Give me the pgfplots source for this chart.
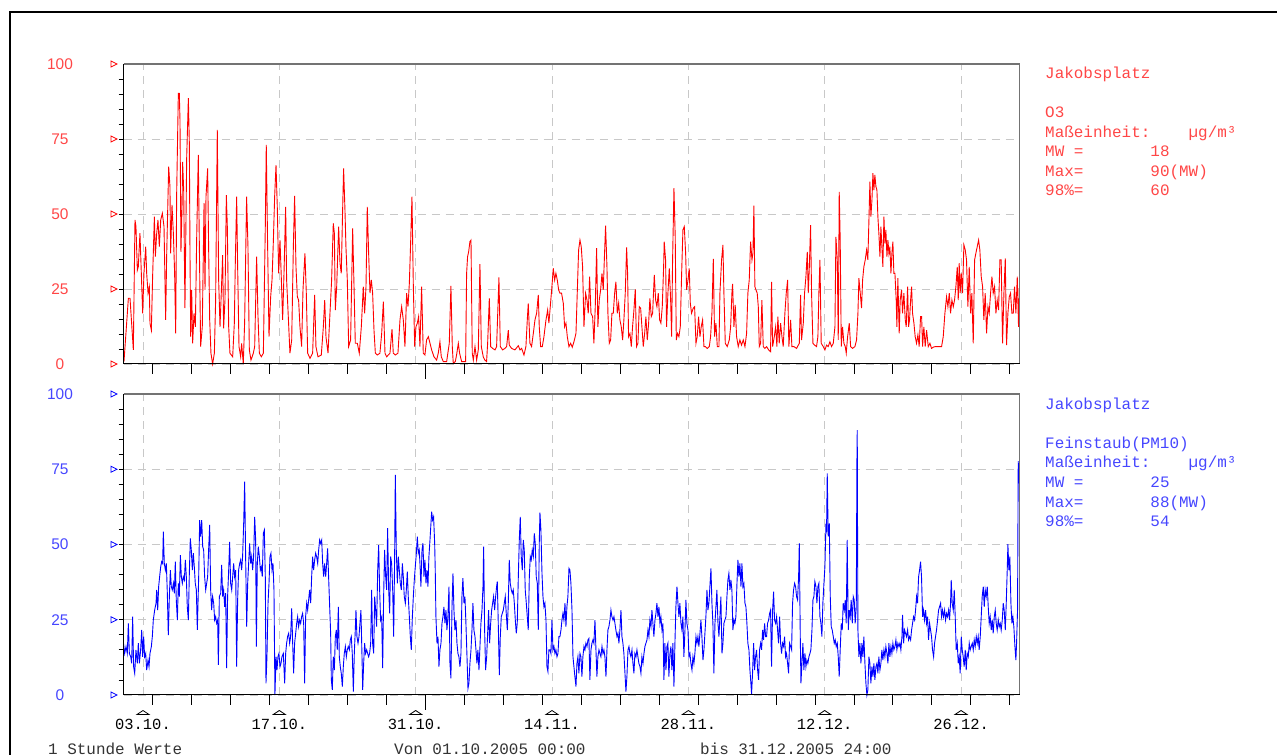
\documentclass[border=0pt]{standalone}
\usepackage{pgfplots}
\pgfplotsset{compat=1.18}
\usepackage{fontspec}
\setmainfont{Liberation Mono}
\newfontfamily\labfont{Liberation Sans}
\definecolor{txtred}{RGB}{255,70,70}
\definecolor{txtblue}{RGB}{70,70,255}
\definecolor{gridgray}{RGB}{200,200,200}
\pgfplotsset{
  myaxis/.style={
    scale only axis, width=896bp,
    xmin=0, xmax=92, ymin=0, ymax=100,
    axis line style={draw=none},
    clip=false,
    tick pos=left,
    xtick={2,16,30,44,58,72,86},
    ytick={0,25,50,75,100},
    minor ytick={5,10,...,95},
    major tick length=0pt, minor tick length=5bp, tick align=outside,
    tick style={black, line width=0.8bp},
    xmajorgrids, ymajorgrids,
    major grid style={gridgray, dash pattern=on 8bp off 6bp, line width=0.8bp},
    /pgf/number format/assume math mode=true,
    yticklabel style={anchor=center, xshift=-63.5bp, inner sep=0pt, font=\labfont\fontsize{15.5}{15.5}\selectfont},
  }
}
\newcommand{\axisdeco}[1]{%
  \draw[black!55, line width=1.3bp] (rel axis cs:0,1) -- (rel axis cs:1,1) -- (rel axis cs:1,0);
  \draw[black, line width=1bp] (rel axis cs:0,1) -- (rel axis cs:0,0) -- (rel axis cs:1,0);
  \pgfplotsinvokeforeach{3,7,...,91}{\draw[black, line width=0.8bp] (axis cs:##1,0) -- ++(0,-10bp);}
  \draw[black, line width=0.8bp] (axis cs:31,0) -- ++(0,-15bp);
  \pgfplotsinvokeforeach{0,25,50,75,100}{\draw[#1, line width=0.8bp] (axis cs:0,##1) ++(-12.5bp,-3bp) -- ++(6bp,3bp) -- ++(-6bp,3bp) -- cycle;}
}
\begin{document}
\begin{tikzpicture}
\path[use as bounding box] (0bp,0bp) rectangle (1277bp,755bp);
\draw[line width=2bp] (10bp,-5bp) -- (10bp,743bp) -- (1290bp,743bp);
% ---------- O3 ----------
\begin{axis}[myaxis, height=300bp, at={(123.5bp,391bp)}, anchor=south west,
  xticklabels={}, yticklabel style={text=txtred}]
\addplot[red, line width=0.9bp] table[row sep=\\] {
x y\\
0.05 0.8\\ 0.50 21.9\\ 0.67 21.9\\ 1.01 4.7\\ 1.18 48\\ 1.28 45.8\\ 1.42 31.3\\ 1.52 32.4\\ 1.69 43.6\\ 1.83 30.2\\ 1.97 16.9\\ 2.10 30.2\\ 2.28 39.1\\ 2.38 30.2\\ 2.52 23.6\\ 2.65 25.8\\ 2.72 13.6\\ 2.86 11.3\\ 2.99 29.1\\ 3.17 49.1\\ 3.27 35.8\\ 3.41 43.6\\ 3.54 48\\ 3.68 39.1\\ 3.82 48\\ 3.99 50.2\\ 4.16 45.8\\ 4.33 14.7\\ 4.43 35.8\\ 4.64 65.8\\ 4.77 59.1\\ 4.84 36.9\\ 4.98 53\\ 5.12 43.6\\ 5.25 30.2\\ 5.36 10.2\\ 5.46 56.9\\ 5.63 90.2\\ 5.73 90.2\\ 5.80 81.3\\ 5.90 37.4\\ 6.01 52.4\\ 6.07 67.4\\ 6.18 58\\ 6.31 18.6\\ 6.49 69.1\\ 6.66 88.6\\ 6.76 73.6\\ 6.83 35.8\\ 6.90 9.1\\ 7.00 24.7\\ 7.10 6.9\\ 7.24 16.9\\ 7.38 12.4\\ 7.51 41.3\\ 7.68 69.7\\ 7.79 39.1\\ 7.92 5.8\\ 8.09 12.4\\ 8.27 53.6\\ 8.37 24.7\\ 8.47 55.8\\ 8.64 65.2\\ 8.74 39.1\\ 8.85 14.7\\ 8.98 3.6\\ 9.15 0\\ 9.33 3.6\\ 9.46 21.3\\ 9.63 78\\ 9.77 28\\ 9.91 12.4\\ 10.04 23.6\\ 10.18 36.3\\ 10.28 11.9\\ 10.42 21.3\\ 10.56 56.3\\ 10.66 45.8\\ 10.80 12.4\\ 10.93 3.6\\ 11.21 2.4\\ 11.38 13.6\\ 11.48 33.6\\ 11.62 55.8\\ 11.72 32.4\\ 11.86 5.8\\ 12.03 2.4\\ 12.13 6.9\\ 12.30 0\\ 12.44 14.1\\ 12.64 55.8\\ 12.78 39.1\\ 12.92 4.7\\ 13.09 1.3\\ 13.33 3.6\\ 13.47 5.8\\ 13.67 35.8\\ 13.81 15.8\\ 13.95 3.6\\ 14.15 2.4\\ 14.36 3.6\\ 14.56 45.8\\ 14.66 73\\ 14.80 39.1\\ 14.94 9.1\\ 15.11 22.4\\ 15.25 28\\ 15.38 40.2\\ 15.52 55.8\\ 15.66 66.3\\ 15.79 52.4\\ 15.93 30.2\\ 16.07 41.3\\ 16.20 29.1\\ 16.34 14.7\\ 16.48 30.2\\ 16.65 52.4\\ 16.75 28\\ 16.92 15.8\\ 17.09 3.6\\ 17.27 8\\ 17.44 39.1\\ 17.57 56\\ 17.71 32.4\\ 17.85 22.4\\ 17.98 21.3\\ 18.12 12.4\\ 18.29 5.8\\ 18.43 24.7\\ 18.63 36.9\\ 18.77 23.6\\ 18.91 3.6\\ 19.15 1.9\\ 19.42 3.6\\ 19.63 23\\ 19.76 5.8\\ 19.97 2.4\\ 20.31 3\\ 20.52 12.4\\ 20.66 21.3\\ 20.79 9.1\\ 21.00 3.6\\ 21.20 16.9\\ 21.37 28\\ 21.54 46.9\\ 21.65 43.6\\ 21.75 18\\ 21.89 25.8\\ 22.09 45.8\\ 22.23 33.6\\ 22.36 30.2\\ 22.50 51.3\\ 22.60 65.2\\ 22.74 51.3\\ 22.84 39.1\\ 22.98 28\\ 23.12 5.8\\ 23.32 8\\ 23.53 45.2\\ 23.67 25.8\\ 23.80 6.9\\ 24.01 6.9\\ 24.21 3.6\\ 24.42 12.4\\ 24.62 25.8\\ 24.76 16.9\\ 24.90 25.8\\ 25.03 52.4\\ 25.17 36.9\\ 25.31 23.6\\ 25.45 28\\ 25.58 23.6\\ 25.72 11.3\\ 25.86 3.6\\ 26.06 3\\ 26.33 3.6\\ 26.51 10.2\\ 26.68 20.8\\ 26.85 3.6\\ 27.02 2.4\\ 27.36 3.6\\ 27.57 11.6\\ 27.70 3.6\\ 27.91 3\\ 28.18 3.6\\ 28.39 14.7\\ 28.56 19.1\\ 28.73 14.7\\ 28.90 5.8\\ 29.07 23.6\\ 29.21 19.1\\ 29.35 26.9\\ 29.48 40.2\\ 29.62 55.8\\ 29.76 25.8\\ 29.90 5.8\\ 30.03 12.4\\ 30.17 13.6\\ 30.30 15.8\\ 30.44 5.8\\ 30.61 25.8\\ 30.78 3.6\\
30.95 3\\ 31.12 8\\ 31.30 9.1\\ 31.47 6.9\\ 31.64 4.7\\ 31.88 2.4\\ 32.15 1.3\\ 32.32 3.6\\ 32.49 7.4\\ 32.63 2.4\\ 32.84 0.8\\ 33.18 0.8\\ 33.45 6.9\\ 33.62 26\\ 33.76 5.8\\ 33.86 0.2\\ 34.07 0.8\\ 34.20 3\\ 34.38 6.9\\ 34.51 3.6\\ 34.72 0.8\\ 35.13 0.8\\ 35.23 30.2\\ 35.33 35.8\\ 35.44 37.4\\ 35.57 40.8\\ 35.68 41.3\\ 35.81 3.6\\ 35.92 1.3\\ 36.09 5.8\\ 36.26 1.3\\ 36.43 4.7\\ 36.60 33.3\\ 36.74 5.8\\ 36.94 2.4\\ 37.11 1.3\\ 37.28 0.8\\ 37.39 6.9\\ 37.56 21.9\\ 37.70 5.8\\ 37.90 5.2\\ 38.14 4.7\\ 38.31 5.8\\ 38.55 28.9\\ 38.69 5.8\\ 38.93 4.7\\ 39.17 5.2\\ 39.34 5.8\\ 39.51 11.3\\ 39.61 6.3\\ 39.85 5.2\\ 40.19 4.7\\ 40.54 6.1\\ 40.71 4.7\\ 40.88 5.2\\ 41.12 3\\ 41.32 5.8\\ 41.46 14.7\\ 41.56 20.2\\ 41.73 6.9\\ 41.90 5.8\\ 42.08 10.2\\ 42.25 14.7\\ 42.42 16.9\\ 42.59 23\\ 42.69 12.4\\ 42.83 5.8\\ 43.00 5.8\\ 43.17 9.1\\ 43.38 14.7\\ 43.55 18\\ 43.68 13.6\\ 43.82 19.1\\ 43.99 25.8\\ 44.13 31.9\\ 44.27 28\\ 44.40 30.2\\ 44.54 28\\ 44.68 24.7\\ 44.81 23.6\\ 44.98 23.6\\ 45.16 20.2\\ 45.29 12.4\\ 45.43 13.6\\ 45.57 9.1\\ 45.74 5.8\\ 45.91 6.9\\ 46.08 5.6\\ 46.25 7.4\\ 46.46 10.2\\ 46.59 23.6\\ 46.73 38\\ 46.87 41.3\\ 47.00 39.1\\ 47.14 32.4\\ 47.28 12.4\\ 47.45 23.6\\ 47.59 21.3\\ 47.72 16.9\\ 47.86 29.1\\ 48.00 16.9\\ 48.17 15.8\\ 48.30 6.9\\ 48.44 19.1\\ 48.58 38.6\\ 48.71 12.4\\ 48.85 21.3\\ 48.99 24.7\\ 49.13 30.2\\ 49.26 24.7\\ 49.37 34.7\\ 49.50 46.1\\ 49.64 32.4\\ 49.74 16.9\\ 49.88 6.9\\ 50.02 8\\ 50.15 16.9\\ 50.29 16.9\\ 50.43 23.6\\ 50.56 27.4\\ 50.70 16.9\\ 50.84 20.2\\ 50.97 14.7\\ 51.11 12.4\\ 51.25 8\\ 51.38 14.7\\ 51.52 23.6\\ 51.66 38.9\\ 51.76 30.2\\ 51.86 9.1\\ 52.00 10.2\\ 52.14 5.8\\ 52.27 12.4\\ 52.41 18\\ 52.55 24.9\\ 52.68 5.8\\ 52.82 6.9\\ 52.96 19.1\\ 53.10 18.6\\ 53.23 12.4\\ 53.37 5.8\\ 53.51 10.2\\ 53.64 15.8\\ 53.78 8\\ 53.92 13.6\\ 54.05 21.9\\ 54.19 15.8\\ 54.33 16.9\\ 54.50 29.7\\ 54.64 21.3\\ 54.77 19.1\\ 54.91 23.6\\ 55.05 14.7\\ 55.18 13.6\\ 55.32 19.1\\ 55.46 32.4\\ 55.52 40.8\\ 55.66 34.7\\ 55.76 12.4\\ 55.90 23.6\\ 56.04 31.9\\ 56.18 21.3\\ 56.28 9.1\\ 56.38 34.7\\ 56.52 58.6\\ 56.65 42.4\\ 56.76 8\\ 56.89 10.2\\ 57.03 9.1\\ 57.17 12.4\\ 57.30 29.1\\ 57.44 44.7\\ 57.58 45.8\\ 57.72 36.9\\ 57.82 24.7\\ 57.96 28\\ 58.09 31.9\\ 58.20 20.2\\ 58.33 16.9\\ 58.50 18.6\\ 58.64 19.1\\ 58.78 6.9\\ 58.91 9.1\\ 59.05 15.8\\ 59.19 9.1\\ 59.32 12.4\\ 59.46 14.7\\ 59.60 5.8\\ 59.74 5.8\\ 59.94 5.2\\ 60.15 5.8\\ 60.28 9.1\\ 60.42 16.9\\ 60.56 35\\ 60.69 9.1\\ 60.83 13.6\\ 60.97 5.8\\ 61.14 5.8\\
61.24 23.6\\ 61.41 34.7\\ 61.55 39.7\\ 61.65 23.6\\ 61.79 6.9\\ 61.99 5.8\\ 62.20 8\\ 62.34 12.4\\ 62.47 23.6\\ 62.54 26.7\\ 62.68 12.4\\ 62.81 19.7\\ 62.95 9.1\\ 63.12 5.8\\ 63.29 8\\ 63.46 6.3\\ 63.64 8\\ 63.81 5.8\\ 63.98 10.2\\ 64.11 23.6\\ 64.25 28\\ 64.39 40.8\\ 64.53 34.7\\ 64.63 36.9\\ 64.73 52.8\\ 64.83 25.8\\ 64.94 24.7\\ 65.07 23.6\\ 65.18 19.1\\ 65.28 5.8\\ 65.42 6.9\\ 65.55 21.3\\ 65.69 5.8\\ 65.86 5.2\\ 66.03 5.8\\ 66.24 4.7\\ 66.44 4.1\\ 66.54 27.4\\ 66.65 5.8\\ 66.82 9.1\\ 66.96 12.4\\ 67.09 5.8\\ 67.19 15.8\\ 67.33 6.9\\ 67.47 13.6\\ 67.61 9.1\\ 67.74 5.8\\ 67.91 16.9\\ 68.05 23.6\\ 68.19 28\\ 68.32 5.8\\ 68.50 14.7\\ 68.63 5.8\\ 68.84 5.8\\ 69.11 5.2\\ 69.39 6.9\\ 69.52 23\\ 69.62 8\\ 69.80 13.6\\ 69.93 23.6\\ 70.07 29.1\\ 70.21 37.4\\ 70.31 23.6\\ 70.41 31.3\\ 70.55 46.3\\ 70.65 23.6\\ 70.79 6.9\\ 70.96 6.3\\ 71.16 5.8\\ 71.30 9.1\\ 71.40 23.6\\ 71.51 34.7\\ 71.64 6.9\\ 71.85 5.8\\ 72.02 4.7\\ 72.19 6.3\\ 72.36 5.8\\ 72.53 7.4\\ 72.70 5.8\\ 72.88 6.9\\ 73.05 12.4\\ 73.15 42.4\\ 73.29 34.7\\ 73.39 8\\ 73.49 57.4\\ 73.59 41.3\\ 73.70 5.8\\ 73.83 12.4\\ 73.97 6.9\\ 74.11 5.8\\ 74.21 3.6\\ 74.35 9.1\\ 74.52 13.6\\ 74.66 5.8\\ 74.86 5.2\\ 75.10 5.8\\ 75.27 8\\ 75.41 16.9\\ 75.51 28.6\\ 75.65 23.6\\ 75.78 18.6\\ 75.89 28\\ 76.02 32.4\\ 76.16 34.7\\ 76.30 38\\ 76.43 34.7\\ 76.54 48\\ 76.64 60.8\\ 76.74 49.1\\ 76.85 54.7\\ 76.95 63.6\\ 77.05 58\\ 77.15 63\\ 77.26 59.1\\ 77.36 58\\ 77.46 49.1\\ 77.56 43.6\\ 77.67 35.8\\ 77.77 45.8\\ 77.87 39.1\\ 77.97 32.4\\ 78.08 49.1\\ 78.18 40.2\\ 78.28 44.7\\ 78.39 35.8\\ 78.49 41.3\\ 78.59 36.9\\ 78.69 39.1\\ 78.80 30.2\\ 78.90 36.9\\ 79.00 40.8\\ 79.10 30.2\\ 79.21 30.2\\ 79.34 21.3\\ 79.41 12.4\\ 79.51 28.6\\ 79.65 10.2\\ 79.75 21.3\\ 79.89 24.7\\ 79.99 16.9\\ 80.13 23.6\\ 80.27 14.7\\ 80.37 12.4\\ 80.51 25.8\\ 80.61 12.4\\ 80.71 14.7\\ 80.82 21.3\\ 80.92 25.8\\ 81.02 16.9\\ 81.16 13.6\\ 81.29 9.1\\ 81.43 6.9\\ 81.57 9.7\\ 81.70 5.8\\ 81.84 15.8\\ 81.95 15.8\\ 82.05 5.8\\ 82.18 12.4\\ 82.32 5.8\\ 82.46 11.3\\ 82.63 5.8\\ 82.80 6.9\\ 82.97 5.2\\ 83.14 5.6\\ 83.35 5.8\\ 83.55 5.8\\ 83.76 5.8\\ 84.00 5.8\\ 84.17 9.1\\ 84.34 16.9\\ 84.51 22.4\\ 84.65 19.1\\ 84.79 23.6\\ 84.92 16.9\\ 85.06 21.3\\ 85.20 19.1\\ 85.33 21.3\\ 85.47 25.8\\ 85.61 32.4\\ 85.71 21.3\\ 85.81 33.6\\ 85.91 23.6\\ 86.02 30.2\\ 86.15 23.6\\ 86.29 39.7\\ 86.43 38\\ 86.56 34.7\\ 86.70 19.1\\ 86.84 32.4\\ 86.98 16.9\\ 87.11 23.6\\ 87.25 6.9\\ 87.39 34.7\\ 87.52 36.9\\ 87.66 39.1\\ 87.80 41.3\\ 87.93 38\\ 88.07 29.1\\ 88.21 25.8\\ 88.34 14.7\\ 88.48 23.6\\ 88.62 10.2\\ 88.76 19.1\\ 88.89 16.9\\ 89.03 23.6\\ 89.17 29.1\\ 89.30 23.6\\ 89.44 25.8\\ 89.58 16.9\\ 89.71 21.3\\ 89.85 18\\ 89.99 34.7\\ 90.12 34.7\\ 90.26 6.9\\ 90.40 23.6\\ 90.54 35.2\\ 90.67 6.3\\ 90.81 16.9\\ 90.95 22.4\\ 91.08 23.6\\ 91.22 16.9\\ 91.36 16.9\\ 91.49 25.8\\ 91.63 16.9\\ 91.77 29.1\\ 91.90 12.4\\ 92.00 26\\
};
\axisdeco{red}
\end{axis}
% ---------- PM10 ----------
\begin{axis}[myaxis, height=301bp, at={(123.5bp,60bp)}, anchor=south west,
  xticklabels={03.10.,17.10.,31.10.,14.11.,28.11.,12.12.,26.12.},
  xticklabel style={anchor=north, inner sep=0pt, yshift=-24bp, font=\fontsize{15.5}{15.5}\selectfont},
  yticklabel style={text=txtblue}]
\addplot[blue, line width=0.9bp] table[row sep=\\] {
x y\\
0.00 17.2\\ 0.12 13.8\\ 0.26 16.1\\ 0.39 13.8\\ 0.50 23.8\\ 0.60 13.8\\ 0.74 12.7\\ 0.84 10.5\\ 0.94 26\\ 1.04 9.4\\ 1.15 7.2\\ 1.28 15\\ 1.42 10.5\\ 1.52 17.2\\ 1.63 10.5\\ 1.76 15\\ 1.87 21.6\\ 1.97 12.7\\ 2.07 19.4\\ 2.17 12.7\\ 2.28 13.8\\ 2.38 8.3\\ 2.52 11.6\\ 2.62 9.4\\ 2.72 13.8\\ 2.86 16.1\\ 2.96 19.4\\ 3.06 24.9\\ 3.20 28.2\\ 3.34 30.5\\ 3.41 34.9\\ 3.51 28.2\\ 3.61 36\\ 3.71 39.3\\ 3.82 42.6\\ 3.92 44.3\\ 4.02 43.7\\ 4.09 54.3\\ 4.19 43.7\\ 4.30 41.5\\ 4.40 43.7\\ 4.50 33.8\\ 4.60 19.9\\ 4.71 32.7\\ 4.81 41.5\\ 4.91 36\\ 5.01 34.9\\ 5.12 37.1\\ 5.22 33.8\\ 5.32 44.3\\ 5.42 31.6\\ 5.53 24.9\\ 5.63 37.1\\ 5.73 32.7\\ 5.84 46.5\\ 5.94 39.3\\ 6.04 37.1\\ 6.14 39.3\\ 6.25 38.2\\ 6.35 44.9\\ 6.45 39.3\\ 6.55 29.3\\ 6.66 24.9\\ 6.76 40.4\\ 6.86 52\\ 6.96 48.2\\ 7.07 41.5\\ 7.17 47.1\\ 7.27 42.6\\ 7.37 37.1\\ 7.48 34.9\\ 7.58 21.6\\ 7.72 39.3\\ 7.82 58.1\\ 7.92 52.6\\ 8.03 58.1\\ 8.13 49.3\\ 8.23 48.2\\ 8.33 39.3\\ 8.44 34.9\\ 8.54 37.1\\ 8.64 39.3\\ 8.74 48.2\\ 8.85 56.5\\ 8.95 34.9\\ 9.05 28.2\\ 9.15 32.7\\ 9.26 30.5\\ 9.36 24.9\\ 9.46 26\\ 9.57 23.8\\ 9.67 24.9\\ 9.74 10\\ 9.84 32.7\\ 9.98 33.8\\ 10.08 43.2\\ 10.18 32.7\\ 10.28 34.9\\ 10.39 29.3\\ 10.49 33.8\\ 10.59 8.9\\ 10.69 32.7\\ 10.80 41.5\\ 10.90 50.9\\ 11.00 37.1\\ 11.11 34.9\\ 11.21 39.3\\ 11.31 43.7\\ 11.41 39.3\\ 11.52 41.5\\ 11.62 9.4\\ 11.72 31.6\\ 11.82 41.5\\ 11.93 43.7\\ 12.03 44.9\\ 12.13 41.5\\ 12.23 46\\ 12.34 57\\ 12.44 70.9\\ 12.54 46\\ 12.65 22.7\\ 12.75 37.1\\ 12.85 43.7\\ 12.95 50.4\\ 13.06 43.7\\ 13.16 46\\ 13.26 41.5\\ 13.36 46\\ 13.47 59.2\\ 13.57 51.5\\ 13.64 16.1\\ 13.74 43.7\\ 13.84 49.3\\ 13.95 46\\ 14.05 41.5\\ 14.15 42.6\\ 14.25 39.3\\ 14.36 53.7\\ 14.46 54.8\\ 14.56 39.3\\ 14.63 3.9\\ 14.73 12.7\\ 14.84 30.5\\ 14.94 37.1\\ 15.04 46\\ 15.14 47.1\\ 15.25 41.5\\ 15.35 43.7\\ 15.45 34.9\\ 15.55 0\\ 15.66 12.7\\ 15.76 8.3\\ 15.86 12.7\\ 15.96 13.8\\ 16.07 9.4\\ 16.17 10.5\\ 16.27 12.7\\ 16.41 13.8\\ 16.55 3.9\\ 16.65 13.8\\ 16.75 17.2\\ 16.85 19.4\\ 16.96 20.5\\ 17.06 17.2\\ 17.16 19.4\\ 17.27 28.8\\ 17.37 17.2\\ 17.47 7.2\\ 17.57 17.2\\ 17.68 20.5\\ 17.78 23.8\\ 17.88 26\\ 17.98 22.7\\ 18.09 24.9\\ 18.19 23.8\\ 18.29 26\\ 18.39 27.1\\ 18.50 23.8\\ 18.60 3.9\\ 18.70 26\\ 18.81 30.5\\ 18.91 28.2\\ 19.01 31.6\\ 19.11 34.9\\ 19.22 30.5\\ 19.32 39.3\\ 19.42 46\\ 19.52 41.5\\ 19.63 44.9\\ 19.73 47.1\\ 19.83 46\\ 19.94 43.7\\ 20.04 48.2\\ 20.14 51.5\\ 20.24 50.4\\ 20.35 51.5\\ 20.45 43.7\\ 20.55 39.3\\ 20.65 43.7\\ 20.76 39.3\\ 20.86 43.7\\ 20.96 48.7\\ 21.06 39.3\\ 21.17 29.3\\ 21.27 20.5\\ 21.34 5\\ 21.44 1.7\\ 21.54 12.7\\ 21.65 8.3\\ 21.75 19.4\\ 21.85 21.6\\ 21.95 15\\ 22.06 29.3\\ 22.16 12.7\\ 22.26 9.4\\ 22.36 7.2\\ 22.47 2.8\\ 22.57 9.4\\ 22.67 13.8\\ 22.78 16.1\\ 22.88 12.7\\ 22.98 15\\ 23.08 16.1\\ 23.19 15\\ 23.29 18.3\\ 23.39 19.4\\ 23.49 13.8\\ 23.60 1.1\\ 23.70 13.8\\ 23.80 21.6\\ 23.87 28.2\\ 23.97 19.4\\ 24.08 17.2\\ 24.18 19.4\\ 24.28 23.8\\ 24.38 28.2\\ 24.49 12.7\\ 24.56 1.7\\ 24.66 10.5\\ 24.76 17.2\\ 24.86 13.8\\ 24.97 15\\ 25.07 13.8\\ 25.17 12.7\\ 25.27 13.8\\ 25.38 17.2\\ 25.48 34.9\\ 25.58 17.2\\ 25.69 13.8\\ 25.79 32.7\\ 25.89 28.2\\ 25.99 22.7\\ 26.10 41.5\\ 26.20 49.8\\ 26.30 34.9\\ 26.40 24.9\\ 26.51 26\\ 26.61 8.9\\ 26.71 32.7\\ 26.81 48.2\\ 26.92 39.3\\ 27.02 34.9\\ 27.12 55.4\\ 27.23 34.9\\ 27.33 27.1\\ 27.43 46\\ 27.53 43.7\\ 27.64 34.9\\ 27.74 19.4\\ 27.84 46\\ 27.91 73.1\\ 28.01 48.2\\ 28.12 37.1\\ 28.22 46\\ 28.32 41.5\\ 28.42 37.1\\ 28.53 34.9\\ 28.63 43.7\\ 28.73 39.3\\ 28.83 32.7\\ 28.94 30.5\\ 29.04 34.9\\ 29.14 41\\ 29.24 32.7\\ 29.35 26\\ 29.45 19.4\\ 29.55 15\\ 29.66 26\\ 29.76 32.7\\ 29.86 38.2\\ 29.96 42.6\\ 30.07 47.1\\ 30.17 52.6\\ 30.27 47.1\\ 30.37 48.2\\
30.44 43.7\\ 30.54 36\\ 30.65 48.2\\ 30.75 50.4\\ 30.85 39.3\\ 30.95 44.9\\ 31.06 37.1\\ 31.16 41.5\\ 31.26 36\\ 31.36 46\\ 31.47 51.5\\ 31.57 57\\ 31.64 60.9\\ 31.74 58.1\\ 31.84 59.2\\ 31.95 50.4\\ 32.01 41.5\\ 32.08 26\\ 32.19 17.2\\ 32.29 19.4\\ 32.39 9.4\\ 32.49 15\\ 32.60 17.2\\ 32.70 23.8\\ 32.80 26\\ 32.90 29.3\\ 33.01 23.8\\ 33.11 28.2\\ 33.21 21.6\\ 33.31 26\\ 33.42 36\\ 33.52 10.5\\ 33.62 5.5\\ 33.73 29.3\\ 33.83 40.4\\ 33.93 28.2\\ 34.03 21.6\\ 34.14 24.9\\ 34.24 17.2\\ 34.34 13.8\\ 34.44 12.7\\ 34.55 9.4\\ 34.65 13.8\\ 34.75 32.7\\ 34.85 38.8\\ 34.96 30.5\\ 35.06 32.7\\ 35.16 23.8\\ 35.27 12.7\\ 35.37 2.2\\ 35.47 3.9\\ 35.57 10.5\\ 35.68 15\\ 35.78 21.6\\ 35.88 30.5\\ 35.98 21.6\\ 36.09 19.4\\ 36.19 15\\ 36.29 10.5\\ 36.39 15\\ 36.50 8.3\\ 36.60 16.1\\ 36.70 23.8\\ 36.81 28.2\\ 36.91 36\\ 36.98 49.3\\ 37.08 21.6\\ 37.18 8.3\\ 37.29 12.7\\ 37.39 20.5\\ 37.49 28.2\\ 37.59 17.2\\ 37.70 23.8\\ 37.80 28.2\\ 37.90 30.5\\ 38.00 32.7\\ 38.11 28.2\\ 38.21 32.7\\ 38.31 36\\ 38.38 37.7\\ 38.48 23.8\\ 38.59 6.6\\ 38.69 19.4\\ 38.79 26\\ 38.89 27.1\\ 39.00 28.2\\ 39.10 30.5\\ 39.20 32.7\\ 39.30 27.1\\ 39.41 21.6\\ 39.51 30.5\\ 39.61 44.9\\ 39.71 37.1\\ 39.82 34.9\\ 39.92 33.8\\ 40.02 34.9\\ 40.13 30.5\\ 40.23 24.9\\ 40.33 20.5\\ 40.43 23.8\\ 40.54 39.3\\ 40.64 51.5\\ 40.74 59.2\\ 40.84 46\\ 40.95 41.5\\ 41.05 51.5\\ 41.15 48.2\\ 41.25 34.9\\ 41.36 30.5\\ 41.46 26\\ 41.56 21.6\\ 41.67 39.3\\ 41.77 46\\ 41.87 44.9\\ 41.97 48.2\\ 42.08 46\\ 42.18 53.7\\ 42.28 50.4\\ 42.38 39.3\\ 42.49 37.1\\ 42.59 21.6\\ 42.69 50.4\\ 42.76 60.6\\ 42.86 54.8\\ 42.97 40.4\\ 43.07 32.7\\ 43.17 29.3\\ 43.27 30.5\\ 43.38 24.9\\ 43.48 9.4\\ 43.58 7.8\\ 43.68 15\\ 43.79 15\\ 43.89 13.8\\ 43.99 24.9\\ 44.10 15\\ 44.20 16.1\\ 44.30 13.8\\ 44.40 15\\ 44.51 12.7\\ 44.61 13.8\\ 44.71 19.4\\ 44.81 19.4\\ 44.92 21.6\\ 45.02 24.9\\ 45.12 27.1\\ 45.22 24.9\\ 45.33 30.5\\ 45.43 22.7\\ 45.53 29.3\\ 45.63 32.7\\ 45.74 42.1\\ 45.84 41.5\\ 45.94 37.1\\ 46.05 28.2\\ 46.15 12.7\\ 46.25 9.4\\ 46.35 6.1\\ 46.46 2.8\\ 46.56 10.5\\ 46.66 12.7\\ 46.76 7.2\\ 46.87 13.8\\ 46.97 12.7\\ 47.07 6.1\\ 47.17 12.7\\ 47.28 16.1\\ 47.38 15\\ 47.48 17.2\\ 47.59 16.1\\ 47.69 18.3\\ 47.79 18.8\\ 47.89 5\\ 48.00 15\\ 48.10 17.2\\ 48.20 18.3\\ 48.30 17.2\\ 48.41 24.9\\ 48.51 15\\ 48.61 6.1\\ 48.71 12.7\\ 48.82 15\\ 48.92 13.8\\ 49.02 12.7\\ 49.13 16.1\\ 49.23 13.8\\ 49.33 15\\ 49.43 12.7\\ 49.54 6.1\\ 49.64 15\\ 49.74 21.6\\ 49.84 22.7\\ 49.95 24.9\\ 50.05 28.2\\ 50.15 26\\ 50.26 24.9\\ 50.36 26\\ 50.46 23.8\\ 50.56 21.6\\ 50.67 19.4\\ 50.77 20.5\\ 50.87 17.2\\ 50.97 21.6\\ 51.08 28.2\\ 51.18 19.4\\ 51.28 17.2\\ 51.38 13.8\\ 51.49 7.2\\ 51.59 1.1\\ 51.69 6.1\\ 51.80 15\\ 51.90 16.1\\ 52.00 13.8\\ 52.10 12.7\\ 52.21 15\\ 52.31 10.5\\ 52.41 7.2\\ 52.51 13.8\\ 52.62 12.7\\ 52.72 15\\ 52.82 12.7\\ 52.92 10.5\\ 53.03 9.4\\ 53.13 7.2\\ 53.23 12.7\\ 53.34 10.5\\ 53.44 13.8\\ 53.54 16.1\\ 53.64 17.2\\ 53.75 18.3\\ 53.85 21.6\\ 53.95 19.4\\ 54.05 24.9\\ 54.16 22.7\\ 54.26 28.2\\ 54.36 23.8\\ 54.46 19.4\\ 54.57 24.9\\ 54.67 27.1\\ 54.77 30.5\\ 54.88 26\\ 54.98 29.3\\ 55.08 23.8\\ 55.18 26\\ 55.29 21.6\\ 55.39 23.8\\ 55.49 5\\ 55.59 17.2\\ 55.70 8.3\\ 55.80 16.1\\ 55.90 17.2\\ 56.00 6.1\\ 56.11 13.8\\ 56.21 16.1\\ 56.31 8.3\\ 56.41 17.2\\ 56.52 2.8\\ 56.62 17.2\\ 56.72 29.3\\ 56.83 36\\ 56.93 30.5\\ 57.03 26\\ 57.13 30.5\\ 57.24 23.8\\ 57.34 21.6\\ 57.44 26\\ 57.54 12.7\\ 57.65 21.6\\ 57.75 31.6\\ 57.85 23.8\\ 57.96 21.6\\ 58.06 12.7\\ 58.16 13.8\\ 58.26 10.5\\ 58.37 8.3\\ 58.47 12.7\\ 58.57 10.5\\ 58.67 13.8\\ 58.78 19.4\\ 58.88 17.2\\ 58.98 19.4\\ 59.08 16.1\\ 59.19 20.5\\ 59.29 24.9\\ 59.39 19.4\\ 59.50 11.6\\ 59.60 15\\ 59.70 20.5\\ 59.80 26\\ 59.91 34.9\\ 60.01 28.2\\ 60.11 30.5\\ 60.21 36\\ 60.32 42.1\\ 60.42 30.5\\ 60.52 23.8\\ 60.62 7.2\\ 60.73 23.8\\ 60.83 29.3\\ 60.93 34.9\\ 61.04 23.8\\ 61.14 19.4\\
61.24 26\\ 61.34 32.7\\ 61.45 13.8\\ 61.55 17.2\\ 61.65 23.8\\ 61.75 24.9\\ 61.86 26\\ 61.96 32.7\\ 62.06 38.2\\ 62.16 40.4\\ 62.27 34.9\\ 62.37 38.2\\ 62.47 34.9\\ 62.57 21.6\\ 62.68 24.9\\ 62.78 23.8\\ 62.88 26\\ 62.99 37.1\\ 63.09 44.9\\ 63.19 39.3\\ 63.29 43.7\\ 63.40 36\\ 63.50 43.7\\ 63.60 36\\ 63.70 37.1\\ 63.81 30.5\\ 63.91 29.3\\ 64.01 23.8\\ 64.11 17.2\\ 64.22 15\\ 64.32 8.3\\ 64.42 3.9\\ 64.49 0.3\\ 64.59 7.2\\ 64.70 17.2\\ 64.80 8.3\\ 64.90 12.7\\ 65.00 15\\ 65.11 8.3\\ 65.21 5\\ 65.31 15\\ 65.42 17.2\\ 65.52 15\\ 65.62 21.6\\ 65.72 18.3\\ 65.83 23.8\\ 65.93 19.4\\ 66.03 19.4\\ 66.13 23.8\\ 66.24 24.9\\ 66.34 27.1\\ 66.44 28.2\\ 66.54 9.4\\ 66.65 28.2\\ 66.75 34.3\\ 66.85 24.9\\ 66.96 23.8\\ 67.06 26\\ 67.16 21.6\\ 67.26 17.2\\ 67.37 26\\ 67.47 17.2\\ 67.57 13.8\\ 67.67 17.2\\ 67.78 16.1\\ 67.88 19.4\\ 67.98 12.7\\ 68.08 13.8\\ 68.19 10.5\\ 68.29 7.2\\ 68.39 17.2\\ 68.50 16.1\\ 68.60 15\\ 68.70 30.5\\ 68.80 34.9\\ 68.91 37.1\\ 69.01 36\\ 69.11 32.7\\ 69.21 31.6\\ 69.32 39.3\\ 69.39 50.4\\ 69.49 19.4\\ 69.56 3.9\\ 69.66 10.5\\ 69.76 17.2\\ 69.86 8.3\\ 69.97 13.8\\ 70.07 9.4\\ 70.17 11.6\\ 70.27 10.5\\ 70.38 12.7\\ 70.48 13.8\\ 70.58 15\\ 70.69 21.6\\ 70.79 31.6\\ 70.89 32.7\\ 70.99 37.7\\ 71.10 36\\ 71.20 30.5\\ 71.30 36\\ 71.40 37.1\\ 71.51 26\\ 71.61 23.8\\ 71.71 19.4\\ 71.81 30.5\\ 71.92 37.1\\ 72.02 42.6\\ 72.12 55.9\\ 72.19 54.8\\ 72.26 73.6\\ 72.36 52.6\\ 72.47 57\\ 72.57 32.7\\ 72.67 22.7\\ 72.77 21.6\\ 72.88 19.4\\ 72.98 17.2\\ 73.08 18.3\\ 73.18 16.1\\ 73.29 17.2\\ 73.39 12.7\\ 73.49 6.1\\ 73.59 15\\ 73.70 23.8\\ 73.80 21.6\\ 73.90 30.5\\ 74.01 28.2\\ 74.11 31.6\\ 74.21 23.8\\ 74.31 51.5\\ 74.42 21.6\\ 74.52 28.2\\ 74.62 26\\ 74.72 31.6\\ 74.83 23.8\\ 74.93 32.7\\ 75.03 31.6\\ 75.13 23.8\\ 75.24 29.3\\ 75.31 79\\ 75.34 88\\ 75.37 57\\ 75.41 21.6\\ 75.51 12.7\\ 75.61 17.2\\ 75.72 10.5\\ 75.82 17.2\\ 75.92 12.7\\ 76.02 19.4\\ 76.13 10.5\\ 76.23 3.9\\ 76.33 0\\ 76.43 1.7\\ 76.54 12.7\\ 76.64 10.5\\ 76.74 3.9\\ 76.85 9.4\\ 76.95 6.1\\ 77.05 10.5\\ 77.15 5\\ 77.26 9.4\\ 77.36 10.5\\ 77.46 7.2\\ 77.56 12.7\\ 77.67 8.3\\ 77.77 10.5\\ 77.87 15\\ 77.97 11.6\\ 78.08 15\\ 78.18 12.7\\ 78.28 16.1\\ 78.39 13.8\\ 78.49 10.5\\ 78.59 17.2\\ 78.69 12.7\\ 78.80 16.1\\ 78.90 13.8\\ 79.00 17.2\\ 79.10 15\\ 79.21 16.1\\ 79.31 18.3\\ 79.41 15\\ 79.51 17.2\\ 79.62 16.1\\ 79.72 17.2\\ 79.82 15\\ 79.93 19.4\\ 79.99 26.6\\ 80.10 17.2\\ 80.20 21.6\\ 80.30 20.5\\ 80.40 19.4\\ 80.51 21.6\\ 80.61 18.3\\ 80.71 19.4\\ 80.82 18.3\\ 80.92 21.6\\ 81.02 23.8\\ 81.12 26\\ 81.23 24.9\\ 81.33 28.2\\ 81.43 32.7\\ 81.53 30.5\\ 81.64 39.3\\ 81.74 41.5\\ 81.84 44.3\\ 81.94 39.3\\ 82.05 26\\ 82.15 28.2\\ 82.25 24.9\\ 82.36 28.2\\ 82.46 23.8\\ 82.56 26\\ 82.66 18.3\\ 82.77 23.8\\ 82.87 21.6\\ 82.97 19.4\\ 83.07 15\\ 83.18 12.7\\ 83.28 17.2\\ 83.38 19.4\\ 83.48 21.6\\ 83.59 24.9\\ 83.69 28.2\\ 83.79 29.3\\ 83.90 30.5\\ 84.00 26\\ 84.10 28.2\\ 84.20 26\\ 84.31 28.2\\ 84.41 24.9\\ 84.51 27.1\\ 84.61 26\\ 84.72 28.2\\ 84.82 24.9\\ 84.92 30.5\\ 84.99 38.2\\ 85.09 30.5\\ 85.20 28.2\\ 85.30 34.9\\ 85.40 26\\ 85.50 15\\ 85.61 17.2\\ 85.71 10.5\\ 85.81 12.7\\ 85.91 7.2\\ 86.02 19.4\\ 86.12 15\\ 86.22 12.7\\ 86.32 9.4\\ 86.43 15\\ 86.53 8.3\\ 86.63 13.8\\ 86.74 12.7\\ 86.84 17.2\\ 86.94 15\\ 87.04 16.1\\ 87.15 17.2\\ 87.25 15\\ 87.35 18.3\\ 87.45 16.1\\ 87.56 19.4\\ 87.66 17.2\\ 87.76 19.4\\ 87.86 15\\ 87.97 19.4\\ 88.07 26\\ 88.17 32.7\\ 88.28 36\\ 88.38 29.3\\ 88.48 34.9\\ 88.58 32.7\\ 88.69 36\\ 88.79 29.3\\ 88.89 23.8\\ 88.99 26\\ 89.10 21.6\\ 89.20 24.9\\ 89.30 20.5\\ 89.41 26\\ 89.51 28.2\\ 89.61 23.8\\ 89.71 21.6\\ 89.82 24.9\\ 89.92 22.7\\ 90.02 23.8\\ 90.12 21.6\\ 90.23 24.9\\ 90.33 30.5\\ 90.43 28.2\\ 90.54 21.6\\ 90.64 30.5\\ 90.74 41.5\\ 90.81 50.1\\ 90.91 41.5\\ 91.01 46\\ 91.12 30.5\\ 91.22 23.8\\ 91.32 26\\ 91.42 22.7\\ 91.53 16.1\\ 91.63 11.6\\ 91.70 17.2\\ 91.80 28.2\\ 91.87 77.7\\ 91.94 70.3\\
};
\axisdeco{blue}
\pgfplotsinvokeforeach{2,16,30,44,58,72,86}{\draw[black, line width=0.8bp] (axis cs:#1,0) ++(-6bp,-19.5bp) -- ++(6bp,4bp) -- ++(6bp,-4bp) -- cycle;}
\end{axis}
% ---------- side texts ----------
\begin{scope}[every node/.style={anchor=base west, inner sep=0pt, font=\fontsize{16}{16}\selectfont}]
\node[text=txtred] at (1045bp,676.5bp) {Jakobsplatz};
\node[text=txtred] at (1045bp,637.5bp) {O3};
\node[text=txtred] at (1045bp,617.5bp) {Maßeinheit:\ \ \ \ µg/m³};
\node[text=txtred] at (1045bp,598bp) {MW =\ \ \ \ \ \ \ 18};
\node[text=txtred] at (1045bp,578.5bp) {Max=\ \ \ \ \ \ \ 90(MW)};
\node[text=txtred] at (1045bp,559bp) {98\%=\ \ \ \ \ \ \ 60};
\node[text=txtblue] at (1045bp,345.5bp) {Jakobsplatz};
\node[text=txtblue] at (1045bp,306.5bp) {Feinstaub(PM10)};
\node[text=txtblue] at (1045bp,287.5bp) {Maßeinheit:\ \ \ \ µg/m³};
\node[text=txtblue] at (1045bp,267.5bp) {MW =\ \ \ \ \ \ \ 25};
\node[text=txtblue] at (1045bp,247.5bp) {Max=\ \ \ \ \ \ \ 88(MW)};
\node[text=txtblue] at (1045bp,228.5bp) {98\%=\ \ \ \ \ \ \ 54};
\node[text=black!80] at (48bp,0.5bp) {1 Stunde Werte};
\node[text=black!80] at (394bp,0.5bp) {Von 01.10.2005 00:00};
\node[text=black!80] at (700bp,0.5bp) {bis 31.12.2005 24:00};
\end{scope}
\end{tikzpicture}
\end{document}
